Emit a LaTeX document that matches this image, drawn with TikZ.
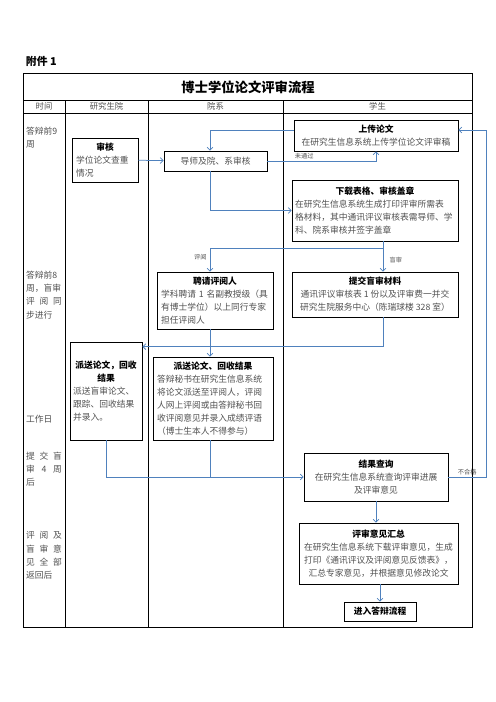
\documentclass[tikz,border=0pt]{standalone}
\usepackage{fontspec}
\setmainfont{Noto Sans CJK SC}
\XeTeXlinebreaklocale "zh"
\usetikzlibrary{positioning, arrows.meta, calc}
\definecolor{flowblue}{RGB}{79,129,189}
\definecolor{bodygray}{RGB}{80,80,80}

\begin{document}
\begin{tikzpicture}[
    x=1.2pt, y=-1.2pt, % pixel grid, y downwards
    flow/.style={
        -{Straight Barb[length=3.5pt,width=7pt]},
        draw=flowblue,
        line width=0.9pt
    },
    link/.style={
        draw=flowblue,
        line width=0.9pt
    },
    boxsize/.style 2 args={
        minimum width=#1*1.2pt,
        minimum height=#2*1.2pt
    },
    stage/.style={
        rectangle,
        draw,
        line width=0.9pt,
        inner sep=0pt,
        align=left,
        text=bodygray,
        font=\fontsize{10.5pt}{15.5pt}\selectfont
    },
    timetext/.style={
        anchor=north west,
        inner sep=0pt,
        text width=43pt,
        align=left,
        text=bodygray,
        font=\fontsize{10.5pt}{16pt}\selectfont
    },
    head/.style={
        text=bodygray,
        font=\fontsize{10pt}{12pt}\selectfont
    },
    note/.style={
        text=bodygray,
        inner sep=1.5pt,
        font=\fontsize{7.5pt}{9pt}\selectfont
    }
]
    \useasboundingbox (0,0) rectangle (496,702);

    \node[anchor=west, font=\fontsize{13pt}{15pt}\selectfont\bfseries] (annex) at (23,61) {附件 1};

    % Table frame
    \draw[line width=0.9pt] (23,73) rectangle (472,627);
    \draw[line width=0.9pt] (23,100) -- (472,100);
    \draw[line width=0.9pt] (23,113) -- (472,113);
    \foreach \cx in {65,148,283}
        \draw[line width=0.9pt] (\cx,100) -- (\cx,627);

    \node[font=\fontsize{16pt}{18pt}\selectfont\bfseries] (title) at (248,87) {博士学位论文评审流程};
    \node[head] (hdtime) at (44,106.5) {时间};
    \node[head] (hdgrad) at (106.5,106.5) {研究生院};
    \node[head] (hddept) at (215.5,106.5) {院系};
    \node[head] (hdstud) at (377.5,106.5) {学生};

    % Time column
    \node[timetext] (t1) at (26,126.5) {答辩前9\\周};
    \node[timetext] (t2) at (26,270.5) {答辩前8\\周，盲审\\评\hfill 阅\hfill 同\\步进行};
    \node[timetext] (t3) at (26,415.5) {工作日};
    \node[timetext] (t4) at (26,451.5) {提\hfill 交\hfill 盲\\审\hfill 4\hfill 周\\后};
    \node[timetext] (t5) at (26,531.5) {评\hfill 阅\hfill 及\\盲\hfill 审\hfill 意\\见\hfill 全\hfill 部\\返回后};

    % Graduate school column
    \node[stage, boxsize={66}{44}, text width=69.6pt] (review) at (105,160)
        {{\centering\bfseries\color{black}审核\par}学位论文查重\\情况};
    \node[stage, boxsize={72}{98}, text width=79pt] (dispatchA) at (106,391)
        {{\centering\bfseries\color{black}派送论文，回收\\结果\par}派送盲审论文、\\跟踪、回收结果\\并录入。};

    % Department column
    \node[stage, boxsize={103}{20}] (tutor) at (215.5,161) {导师及院、系审核};
    \node[stage, boxsize={116}{57}, text width=129.6pt] (hire) at (215,300.5)
        {{\centering\bfseries\color{black}聘请评阅人\par}学科聘请 1 名副教授级（具\\有博士学位）以上同行专家\\担任评阅人};
    \node[stage, boxsize={120}{83}, text width=134.4pt] (dispatchB) at (213,398.5)
        {{\centering\bfseries\color{black}派送论文、回收结果\par}答辩秘书在研究生信息系统\\将论文派送至评阅人，评阅\\人网上评阅或由答辩秘书回\\收评阅意见并录入成绩评语\\（博士生本人不得参与）};

    % Student column
    \node[stage, boxsize={164}{31}, align=center] (upload) at (376,135.5)
        {\textbf{\color{black}上传论文}\\在研究生信息系统上传学位论文评审稿};
    \node[stage, boxsize={166}{61}, text width=192pt] (forms) at (375,210.5)
        {{\centering\bfseries\color{black}下载表格、审核盖章\par}在研究生信息系统生成打印评审所需表\\格材料，其中通讯评议审核表需导师、学\\科、院系审核并签字盖章};
    \node[stage, boxsize={166}{45}, align=center] (submit) at (375,294.5)
        {\textbf{\color{black}提交盲审材料}\\通讯评议审核表 1 份以及评审费一并交\\研究生院服务中心（陈瑞球楼 328 室）};
    \node[stage, boxsize={144}{48}, align=center] (query) at (376,477)
        {\textbf{\color{black}结果查询}\\在研究生信息系统查询评审进展\\及评审意见};
    \node[stage, boxsize={159}{61}, align=center] (summary) at (378.5,553.5)
        {\textbf{\color{black}评审意见汇总}\\在研究生信息系统下载评审意见，生成\\打印《通讯评议及评阅意见反馈表》，\\汇总专家意见，并根据意见修改论文};
    \node[stage, boxsize={72}{19}, text=black, font=\fontsize{10.5pt}{12pt}\selectfont\bfseries] (defense) at (380,611.5) {进入答辩流程};

    % Flow lines
    \coordinate (midx) at (210,0);
    \coordinate (bx) at (383,0);
    \coordinate (rx) at (486,0);
    \coordinate (upy) at (0,130);
    \coordinate (split) at ($(bx |- forms.south)+(0,7)$);

    \draw[flow] (review) -- (tutor);
    \draw[flow] (upload.west |- upy) -| (midx |- tutor.north);
    \draw[flow] (tutor.east) -| node[note, pos=0.17, anchor=south] {未通过} (upload.south);
    \draw[flow] (midx |- tutor.south) |- (forms.west);

    \draw[link] (bx |- forms.south) -- (split);
    \draw[flow] (split) -| node[note, pos=0.69, left=2pt] {评阅} (midx |- hire.north);
    \draw[flow] (split) -- node[note, right=6pt] {盲审} (bx |- submit.north);

    \draw[flow] (midx |- hire.south) -- (midx |- dispatchB.north);
    \draw[flow] (bx |- submit.south) |- ($(dispatchA.north east)+(0,5)$);

    \draw[flow] (dispatchA.south) |- (query.west);
    \draw[link] (midx |- dispatchB.south) -- (midx |- query.west);

    \draw[flow] (query.east) -| node[note, pos=0.25, anchor=south] {不合格} (rx |- upy) -- (upload.east |- upy);
    \draw[flow] (query.south) -- (query.south |- summary.north);
    \draw[flow] (defense.north |- summary.south) -- (defense.north);
\end{tikzpicture}
\end{document}
